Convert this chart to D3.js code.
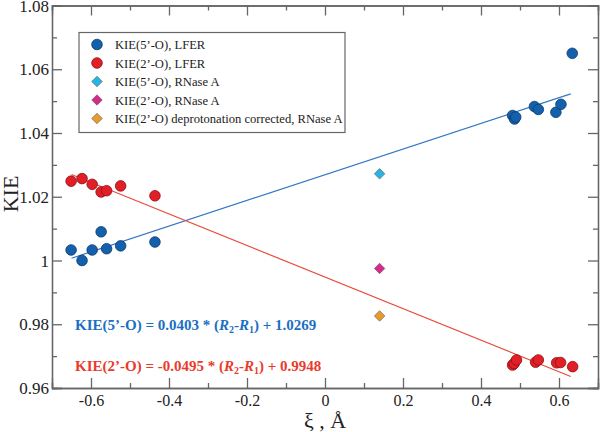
<!DOCTYPE html>
<html><head><meta charset="utf-8">
<script src="https://cdn.jsdelivr.net/npm/d3@7"></script>
<style>body{margin:0;background:#fff}svg{display:block}
svg text{font-family:"Liberation Serif","Times New Roman",Times,serif}</style>
</head><body>
<svg id="c" width="600" height="432"></svg>
<script>
// ---- data ----
const xiLeft = [-0.651, -0.623, -0.597, -0.574, -0.560, -0.524, -0.436];
const kie5Left = [1.0033, 1.0000, 1.0033, 1.0090, 1.0037, 1.0046, 1.0058];
const kie2Left = [1.0249, 1.0257, 1.0239, 1.0215, 1.0219, 1.0234, 1.0203];
const xi5Right = [0.481, 0.486, 0.489, 0.537, 0.547, 0.592, 0.605, 0.634];
const kie5Right = [1.0455, 1.0444, 1.0450, 1.0483, 1.0474, 1.0465, 1.0490, 1.0650];
const xi2Right = [0.481, 0.485, 0.491, 0.540, 0.547, 0.594, 0.604, 0.635];
const kie2Right = [0.9672, 0.9677, 0.9688, 0.9681, 0.9688, 0.9679, 0.9680, 0.9667];
const xiRNase = 0.14;
const rnaseValues = [1.0272, 0.9975, 0.9826]; // 5'-O, 2'-O, 2'-O corrected
const fitSlopes = [0.0403, -0.0495];
const fitIntercepts = [1.0269, 0.9948];
const fitRange = [-0.65, 0.63];
const xTicks = [-0.6, -0.4, -0.2, 0, 0.2, 0.4, 0.6];
const xMinor = [-0.7, -0.5, -0.3, -0.1, 0.1, 0.3, 0.5, 0.7];
const yTicks = [0.96, 0.98, 1.00, 1.02, 1.04, 1.06, 1.08];
const yMinor = [0.97, 0.99, 1.01, 1.03, 1.05, 1.07];
const legendLabels = ["KIE(5’-O), LFER", "KIE(2’-O), LFER", "KIE(5’-O), RNase A", "KIE(2’-O), RNase A", "KIE(2’-O) deprotonation corrected, RNase A"];

// ---- styles ----
const C = {blue:"#1361ad", blueS:"#0b3a6a", red:"#e21f26", redS:"#8a1014",
  cyan:"#27b5e6", magenta:"#d52a8c", orange:"#eb9a2c", axis:"#666",
  blueLine:"#3276c4", redLine:"#ea4b3c", blueText:"#1a6fc2", redText:"#ea3a2c"};

const svg = d3.select("#c");
const L = 52, R = 598, T = 5.5, B = 388;
const x = d3.scaleLinear().domain([-0.7, 0.7]).range([L, R]);
const y = d3.scaleLinear().domain([0.96, 1.08]).range([B, T]);

function styleAxis(g){
  g.attr("font-family", null);
  g.select(".domain").attr("stroke", C.axis).attr("stroke-width", 1.3);
  g.selectAll(".tick line").attr("stroke", C.axis).attr("stroke-width", 1.3);
  g.selectAll("text").attr("fill", "#222");
}
const fx = d => String(+d.toFixed(1));
const fy = d => String(+d.toFixed(2));

// bottom
svg.append("g").attr("transform",`translate(0,${B})`)
  .call(d3.axisBottom(x).tickValues(xTicks).tickSize(-10).tickPadding(7).tickFormat(fx))
  .call(styleAxis).call(g=>g.selectAll("text").attr("font-size",16));
svg.append("g").attr("transform",`translate(0,${B})`)
  .call(d3.axisBottom(x).tickValues(xMinor).tickSize(-5).tickFormat(""))
  .call(styleAxis);
// top
svg.append("g").attr("transform",`translate(0,${T})`)
  .call(d3.axisTop(x).tickValues(xTicks).tickSize(-10).tickFormat(""))
  .call(styleAxis);
svg.append("g").attr("transform",`translate(0,${T})`)
  .call(d3.axisTop(x).tickValues(xMinor).tickSize(-5).tickFormat(""))
  .call(styleAxis);
// left
svg.append("g").attr("transform",`translate(${L},0)`)
  .call(d3.axisLeft(y).tickValues(yTicks).tickSize(-10).tickPadding(3).tickFormat(fy))
  .call(styleAxis).call(g=>g.selectAll("text").attr("font-size",17).attr("dy","0.33em"));
svg.append("g").attr("transform",`translate(${L},0)`)
  .call(d3.axisLeft(y).tickValues(yMinor).tickSize(-5).tickFormat(""))
  .call(styleAxis);
// right
svg.append("g").attr("transform",`translate(${R},0)`)
  .call(d3.axisRight(y).tickValues(yTicks).tickSize(-10).tickFormat(""))
  .call(styleAxis);
svg.append("g").attr("transform",`translate(${R},0)`)
  .call(d3.axisRight(y).tickValues(yMinor).tickSize(-5).tickFormat(""))
  .call(styleAxis);

// axis titles
svg.append("text").attr("x", 325).attr("y", 428).attr("text-anchor","middle")
  .attr("font-size", 22).attr("fill","#222").text("ξ , Å");
svg.append("text").attr("transform",`translate(18,194) rotate(-90)`)
  .attr("text-anchor","middle").attr("font-size", 22)
  .attr("fill","#222").text("KIE");

// fit lines
const fitColors = [C.blueLine, C.redLine];
fitSlopes.forEach((m,i)=>{
  svg.append("line")
    .attr("x1", x(fitRange[0])).attr("y1", y(m*fitRange[0]+fitIntercepts[i]))
    .attr("x2", x(fitRange[1])).attr("y2", y(m*fitRange[1]+fitIntercepts[i]))
    .attr("stroke", fitColors[i]).attr("stroke-width", 1.2);
});

// points
function circles(xs, ys, fill, stroke){
  svg.append("g").selectAll("circle").data(xs.map((d,i)=>[d, ys[i]])).join("circle")
    .attr("cx", d=>x(d[0])).attr("cy", d=>y(d[1])).attr("r", 5.3)
    .attr("fill", fill).attr("stroke", stroke).attr("stroke-width", 0.8);
}
circles(xiLeft, kie2Left, C.red, C.redS);
circles(xi2Right, kie2Right, C.red, C.redS);
circles(xiLeft, kie5Left, C.blue, C.blueS);
circles(xi5Right, kie5Right, C.blue, C.blueS);

const diamond = d3.symbol().type(d3.symbolDiamond2).size(70);
const diaColors = [C.cyan, C.magenta, C.orange];
svg.append("g").selectAll("path").data(rnaseValues).join("path")
  .attr("d", diamond)
  .attr("transform", d=>`translate(${x(xiRNase)},${y(d)})`)
  .attr("fill", (d,i)=>diaColors[i]).attr("stroke","#555").attr("stroke-width",0.6);

// legend
const lg = svg.append("g");
lg.append("rect").attr("x",79).attr("y",32.5).attr("width",266).attr("height",100)
  .attr("fill","#fff").attr("stroke",C.axis).attr("stroke-width",1.2);
const lgColors = [C.blue, C.red, C.cyan, C.magenta, C.orange];
const lgStroke = [C.blueS, C.redS, "#555", "#555", "#555"];
legendLabels.forEach((t,i)=>{
  const cy = 44.5 + i*18.5;
  if(i<2){
    lg.append("circle").attr("cx",97).attr("cy",cy).attr("r",5.3)
      .attr("fill",lgColors[i]).attr("stroke",lgStroke[i]).attr("stroke-width",0.8);
  } else {
    lg.append("path").attr("d",diamond).attr("transform",`translate(97,${cy})`)
      .attr("fill",lgColors[i]).attr("stroke",lgStroke[i]).attr("stroke-width",0.6);
  }
  lg.append("text").attr("x",115).attr("y",cy+4.5)
    .attr("font-size",12.6).attr("fill","#222").text(t);
});

// equations
function equation(yPos, color, pre, post){
  const t = svg.append("text").attr("x",75).attr("y",yPos)
    .attr("font-size",15).attr("font-weight","bold").attr("fill",color);
  t.append("tspan").text(pre);
  t.append("tspan").attr("font-style","italic").text("R");
  t.append("tspan").attr("font-size",10).attr("dy",3).text("2");
  t.append("tspan").attr("dy",-3).text("-");
  t.append("tspan").attr("font-style","italic").text("R");
  t.append("tspan").attr("font-size",10).attr("dy",3).text("1");
  t.append("tspan").attr("dy",-3).text(post);
}
equation(330, C.blueText, `KIE(5’-O) = ${fitSlopes[0].toFixed(4)} * (`, `) + ${fitIntercepts[0].toFixed(4)}`);
equation(371, C.redText, `KIE(2’-O) = ${fitSlopes[1].toFixed(4)} * (`, `) + ${fitIntercepts[1].toFixed(4)}`);
</script>
</body></html>
